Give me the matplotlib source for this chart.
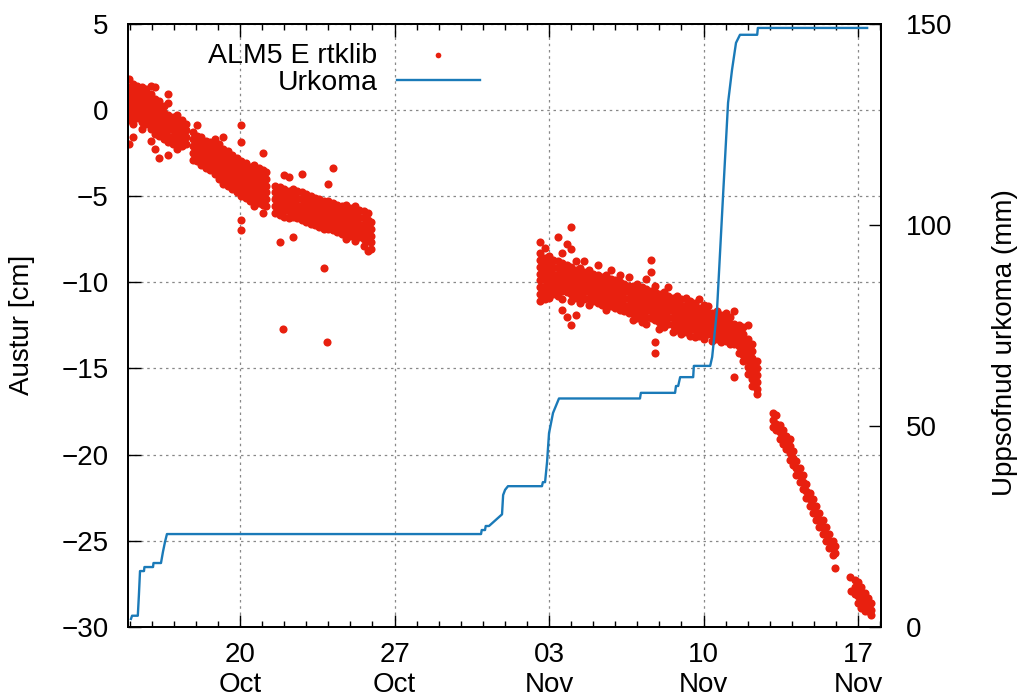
import pandas as pd
import numpy as np
import matplotlib
matplotlib.use('Agg')
import matplotlib.pyplot as plt
import matplotlib.dates as mdates

plt.rcParams['font.family'] = ['Liberation Sans', 'DejaVu Sans']

base = pd.Timestamp('2022-10-15')

# ALM5 east component, cm; days counted from 15 Oct, one column of values per time
seg_a_days = [-0.05, 0.15, 0.35, 0.55, 0.75, 0.95, 1.15, 1.35, 1.55, 1.75, 1.95, 2.15, 2.35, 2.55]
seg_a_vals = [
    [1.8, 1.3, 0.9, 0.6, 0.2, -0.2, -0.6, -2.0],
    [1.5, 1.1, 0.7, 0.4, 0.0, -0.4, -0.8, -1.6],
    [1.4, 1.0, 0.6, 0.3, -0.1, -0.5],
    [1.3, 0.9, 0.5, 0.1, -0.3, -0.7, -1.1],
    [1.2, 0.8, 0.4, 0.0, -0.4, -0.8],
    [1.4, 0.9, 0.5, 0.1, -0.3, -0.7, -1.1, -1.8],
    [1.3, 0.6, 0.2, -0.2, -0.6, -1.0, -1.4, -2.3],
    [0.5, 0.1, -0.3, -0.7, -1.1, -1.5, -2.8],
    [0.2, -0.2, -0.6, -1.0, -1.4, -1.7],
    [0.9, 0.4, -0.3, -0.7, -1.1, -1.5, -1.9, -2.6],
    [-0.4, -0.8, -1.2, -1.6, -2.0],
    [-0.3, -0.7, -1.1, -1.5, -1.9, -2.3],
    [-0.6, -1.0, -1.4, -1.8, -2.1],
    [-0.8, -1.2, -1.6, -2.0],
]

seg_b_days = [2.85, 3.05, 3.25, 3.45, 3.65, 3.85, 4.05, 4.25, 4.45, 4.65, 4.85, 5.05,
              5.25, 5.45, 5.65, 5.85, 6.05, 6.2]
seg_b_vals = [
    [-1.3, -1.7, -2.1, -2.5, -2.9],
    [-0.9, -1.5, -1.9, -2.3, -2.7, -3.0],
    [-1.6, -2.0, -2.4, -2.8, -3.2],
    [-1.8, -2.2, -2.6, -3.0, -3.4],
    [-1.9, -2.3, -2.7, -3.1, -3.5],
    [-1.7, -2.1, -2.5, -2.9, -3.3, -3.7],
    [-2.0, -2.4, -2.8, -3.2, -3.6, -4.0],
    [-1.6, -2.3, -2.7, -3.1, -3.5, -3.9, -4.3],
    [-2.4, -2.8, -3.2, -3.6, -4.0, -4.4],
    [-2.6, -3.0, -3.4, -3.8, -4.2, -4.6],
    [-2.8, -3.2, -3.6, -4.0, -4.4, -4.8],
    [-0.9, -1.9, -3.0, -3.4, -3.8, -4.2, -4.6, -5.0, -6.4, -7.0],
    [-3.1, -3.5, -3.9, -4.3, -4.7, -5.1],
    [-3.3, -3.7, -4.1, -4.5, -4.9, -5.3],
    [-3.2, -3.6, -4.0, -4.4, -4.8, -5.2, -5.6],
    [-3.4, -3.8, -4.2, -4.6, -5.0, -5.4],
    [-2.5, -3.5, -3.9, -4.3, -4.7, -5.1, -5.5, -6.0],
    [-3.6, -4.0, -4.4, -4.8, -5.2, -5.6],
]

seg_c_days = [6.6, 6.8, 7.0, 7.2, 7.4, 7.6, 7.8, 8.0, 8.2, 8.4, 8.6, 8.8, 9.0, 9.2,
              9.4, 9.6, 9.8, 10.0, 10.2, 10.4, 10.6, 10.8, 10.95]
seg_c_vals = [
    [-4.4, -4.8, -5.2, -5.6, -6.0],
    [-4.5, -4.9, -5.3, -5.7, -6.1, -7.7],
    [-3.8, -4.6, -5.0, -5.4, -5.8, -6.2],
    [-3.9, -4.7, -5.1, -5.5, -5.9, -6.3],
    [-4.6, -5.0, -5.4, -5.8, -6.2, -7.4],
    [-4.7, -5.1, -5.5, -5.9, -6.3],
    [-3.7, -4.8, -5.2, -5.6, -6.0, -6.4],
    [-4.9, -5.3, -5.7, -6.1, -6.5],
    [-5.0, -5.4, -5.8, -6.2, -6.6],
    [-5.1, -5.5, -5.9, -6.3, -6.7],
    [-5.2, -5.6, -6.0, -6.4, -6.8],
    [-5.3, -5.7, -6.1, -6.5, -6.9, -9.2],
    [-4.3, -5.3, -5.7, -6.1, -6.5, -6.9],
    [-3.4, -5.4, -5.8, -6.2, -6.6, -7.0],
    [-5.5, -5.9, -6.3, -6.7, -7.1],
    [-5.6, -6.0, -6.4, -6.8, -7.2],
    [-5.5, -5.9, -6.3, -6.7, -7.1, -7.5],
    [-5.7, -6.1, -6.5, -6.9, -7.3],
    [-5.6, -6.0, -6.4, -6.8, -7.2, -7.6],
    [-5.8, -6.2, -6.6, -7.0, -7.4],
    [-5.9, -6.3, -6.7, -7.1, -7.5, -7.9],
    [-6.0, -6.4, -6.8, -7.2, -7.6, -8.2],
    [-6.5, -6.9, -7.3, -7.7, -8.1],
]

seg_d_days = [18.6, 18.8, 19.0, 19.2, 19.4, 19.6, 19.8, 20.0, 20.2, 20.4, 20.6, 20.8,
              21.0, 21.2, 21.4, 21.6, 21.8, 22.0, 22.2, 22.4, 22.6, 22.8, 23.0, 23.2,
              23.4, 23.6, 23.8, 24.0, 24.2, 24.4, 24.6, 24.8, 25.0, 25.2, 25.4, 25.6,
              25.8, 26.0, 26.2, 26.4, 26.6, 26.8, 27.0, 27.2, 27.4, 27.6, 27.8, 28.0,
              28.2, 28.4]
seg_d_vals = [
    [-7.7, -8.3, -8.7, -9.1, -9.5, -9.9, -10.3, -10.7, -11.1],
    [-8.0, -8.6, -9.0, -9.4, -9.8, -10.2, -10.6, -11.0],
    [-8.5, -8.9, -9.3, -9.7, -10.1, -10.5, -10.9],
    [-8.7, -9.1, -9.5, -9.9, -10.3, -10.7],
    [-7.4, -8.8, -9.2, -9.6, -10.0, -10.4, -10.8],
    [-8.3, -8.9, -9.3, -9.7, -10.1, -10.5, -11.0, -11.6],
    [-7.8, -9.0, -9.4, -9.8, -10.2, -10.6, -12.0],
    [-6.8, -8.1, -9.1, -9.5, -9.9, -10.3, -10.7, -11.1, -12.5],
    [-8.8, -9.3, -9.7, -10.1, -10.5, -10.9, -11.9],
    [-9.2, -9.6, -10.0, -10.4, -10.8, -11.2],
    [-8.8, -9.4, -9.8, -10.2, -10.6, -11.0],
    [-9.3, -9.7, -10.1, -10.5, -10.9, -11.3],
    [-9.5, -9.9, -10.3, -10.7, -11.1],
    [-9.0, -9.6, -10.0, -10.4, -10.8, -11.2],
    [-9.7, -10.1, -10.5, -10.9, -11.3],
    [-9.6, -10.0, -10.4, -10.8, -11.2, -11.6],
    [-9.3, -9.8, -10.2, -10.6, -11.0, -11.4],
    [-9.9, -10.3, -10.7, -11.1, -11.5],
    [-9.6, -10.0, -10.4, -10.8, -11.2, -11.6],
    [-10.1, -10.5, -10.9, -11.3, -11.7],
    [-9.7, -10.2, -10.6, -11.0, -11.4, -11.8],
    [-10.2, -10.6, -11.0, -11.4, -11.8, -12.2],
    [-10.1, -10.5, -10.9, -11.3, -11.7, -12.1],
    [-10.3, -10.7, -11.1, -11.5, -11.9, -12.3],
    [-9.8, -10.4, -10.8, -11.2, -11.6, -12.0, -12.4],
    [-8.7, -9.4, -10.5, -10.9, -11.3, -11.7, -12.1],
    [-10.2, -10.6, -11.0, -11.4, -11.8, -12.2, -13.5, -14.1],
    [-10.7, -11.1, -11.5, -11.9, -12.3, -12.7],
    [-10.6, -11.0, -11.4, -11.8, -12.2, -12.6],
    [-10.3, -10.8, -11.2, -11.6, -12.0, -12.4],
    [-10.9, -11.3, -11.7, -12.1, -12.5, -12.9],
    [-10.8, -11.2, -11.6, -12.0, -12.4, -12.8],
    [-11.0, -11.4, -11.8, -12.2, -12.6, -13.0],
    [-10.9, -11.3, -11.7, -12.1, -12.5, -12.9],
    [-11.1, -11.5, -11.9, -12.3, -12.7, -13.1],
    [-11.2, -11.6, -12.0, -12.4, -12.8, -13.2],
    [-11.0, -11.5, -11.9, -12.3, -12.7, -13.1],
    [-11.3, -11.7, -12.1, -12.5, -12.9, -13.3],
    [-11.4, -11.8, -12.2, -12.6, -13.0],
    [-11.8, -12.2, -12.6, -13.0, -13.4],
    [-11.7, -12.1, -12.5, -12.9, -13.3],
    [-11.9, -12.3, -12.7, -13.1, -13.5],
    [-11.8, -12.2, -12.6, -13.0, -13.4],
    [-12.0, -12.4, -12.8, -13.2, -13.6],
    [-11.7, -12.4, -12.8, -13.2, -13.6, -15.5],
    [-12.5, -12.9, -13.3, -13.7, -14.1],
    [-12.6, -13.0, -13.4, -13.8, -14.2, -14.6],
    [-12.5, -13.3, -13.7, -14.1, -14.5, -14.9, -15.3],
    [-13.6, -14.0, -14.4, -14.8, -15.2, -15.6, -16.0],
    [-14.6, -15.0, -15.4, -15.8, -16.2, -16.5],
]

seg_e_days = [29.15, 29.3, 29.45, 29.6, 29.75, 29.9, 30.05, 30.2, 30.35, 30.5, 30.65,
              30.8, 30.95, 31.1, 31.25, 31.4, 31.55, 31.7, 31.85, 31.95]
seg_e_vals = [
    [-17.6, -18.0, -18.4], [-17.7, -18.2, -18.6], [-18.3, -18.7, -19.1],
    [-18.6, -19.0, -19.4], [-18.9, -19.3, -19.7], [-19.1, -19.5, -19.9, -20.3],
    [-19.8, -20.2, -20.6], [-20.4, -20.8, -21.2], [-20.8, -21.2, -21.6],
    [-21.2, -21.6, -22.0], [-21.7, -22.1, -22.5], [-22.2, -22.6, -23.0],
    [-22.6, -23.0, -23.4], [-23.0, -23.4, -23.8], [-23.4, -23.8, -24.2],
    [-23.8, -24.2, -24.6], [-24.2, -24.6, -25.0], [-24.6, -25.0, -25.4],
    [-25.0, -25.4, -25.8], [-25.3, -25.7, -26.6],
]

seg_f_days = [32.64, 32.68, 32.85, 33.0, 33.15, 33.3, 33.45, 33.6]
seg_f_vals = [
    [-27.1], [-27.9],
    [-27.3, -27.7, -28.1], [-27.4, -27.8, -28.2, -28.6], [-27.7, -28.1, -28.5, -28.9],
    [-28.0, -28.4, -28.8, -29.1], [-28.3, -28.7, -29.1], [-28.6, -29.0, -29.3],
]

outlier_days = [6.95, 8.94]
outlier_vals = [-12.7, -13.5]

# accumulated precipitation (mm), polyline vertices
rain_days = [0.06, 0.11, 0.37, 0.42, 0.47, 0.65, 0.67, 1.06, 1.08, 1.42, 1.51, 1.60, 1.69,
             15.92, 15.95, 16.10, 16.13, 16.28, 16.87, 16.92, 17.01, 17.14, 17.32,
             18.68, 18.72, 18.82, 18.91, 19.00, 19.18, 19.45, 23.12, 23.16, 23.26,
             24.71, 24.75, 24.85, 24.94, 25.53, 25.56, 25.66, 26.30, 26.39, 26.61,
             26.88, 27.11, 27.29, 27.47, 27.65, 28.43, 28.46, 33.41]
rain_mm = [2.0, 2.8, 2.8, 8.0, 13.9, 13.9, 14.9, 14.9, 15.9, 15.9, 18.7, 21.1, 23.1,
           23.1, 24.1, 24.1, 25.1, 25.1, 28.0, 32.8, 34.1, 35.0, 35.0,
           35.0, 36.0, 36.0, 41.0, 48.2, 53.2, 56.8, 56.8, 58.2, 58.2,
           58.2, 59.9, 59.9, 62.1, 62.1, 64.9, 64.9, 64.9, 67.1, 78.8,
           106.9, 130.3, 138.5, 145.2, 147.2, 147.2, 148.9, 148.9]

tick_dates = ['2022-10-20', '2022-10-27', '2022-11-03', '2022-11-10', '2022-11-17']

east_days = []
east_vals = []
for days, cols in [(seg_a_days, seg_a_vals), (seg_b_days, seg_b_vals), (seg_c_days, seg_c_vals),
                   (seg_d_days, seg_d_vals), (seg_e_days, seg_e_vals), (seg_f_days, seg_f_vals)]:
    for d, col in zip(days, cols):
        for v in col:
            east_days.append(d)
            east_vals.append(v)
east_days += outlier_days
east_vals += outlier_vals

east_time = base + pd.to_timedelta(np.array(east_days), unit='D')
rain_time = base + pd.to_timedelta(np.array(rain_days), unit='D')

fig = plt.figure(figsize=(10.19, 7.0), dpi=100)
ax = fig.add_axes([0.1256, 0.1043, 0.7390, 0.8621])
ax2 = ax.twinx()

pts = ax.scatter(east_time, east_vals, s=34, color='#e8200f', linewidths=0, label='ALM5 E rtklib')
line, = ax2.plot(rain_time, rain_mm, color='#1a7ab8', lw=1.7, label='Urkoma')

ax.set_xlim(base - pd.Timedelta(days=0.075), base + pd.Timedelta(days=34.04))
ax.set_ylim(-30, 5)
ax2.set_ylim(0, 150)

ax.set_xticks(pd.to_datetime(tick_dates))
ax.xaxis.set_major_formatter(mdates.DateFormatter('%d\n%b'))
ax.xaxis.set_minor_locator(mdates.DayLocator())
ax.set_yticks(np.arange(-30, 6, 5))
ax2.set_yticks([0, 50, 100, 150])

ax.grid(True, which='major', color='#888888', linestyle=(0, (2, 3)), linewidth=0.9)
ax.set_axisbelow(True)

fs = 20
ax.tick_params(axis='x', which='major', direction='in', top=True, length=9, width=1, labelsize=fs, pad=11)
ax.tick_params(axis='x', which='minor', direction='in', top=True, length=4.5, width=1)
ax.tick_params(axis='y', direction='in', length=9, width=1, labelsize=fs, pad=14)
ax2.tick_params(axis='y', direction='in', length=9, width=1, labelsize=fs, pad=18)
for sp in ax.spines.values():
    sp.set_linewidth(1.4)
for sp in ax2.spines.values():
    sp.set_linewidth(1.4)

ax.set_ylabel('Austur [cm]', fontsize=fs)
ax.yaxis.set_label_coords(-0.124, 0.5)
ax2.set_ylabel('Uppsofnud urkoma (mm)', fontsize=fs)
ax2.yaxis.set_label_coords(1.147, 0.472)

ax2.legend([pts, line], ['ALM5 E rtklib', 'Urkoma'], loc='upper right',
           bbox_to_anchor=(0.467, 0.968), frameon=False, markerfirst=False,
           fontsize=20.5, handlelength=2.9, handletextpad=0.7, labelspacing=0.05,
           borderaxespad=0, borderpad=0, scatterpoints=1, markerscale=0.7)

fig.savefig('out.png', dpi=100)
